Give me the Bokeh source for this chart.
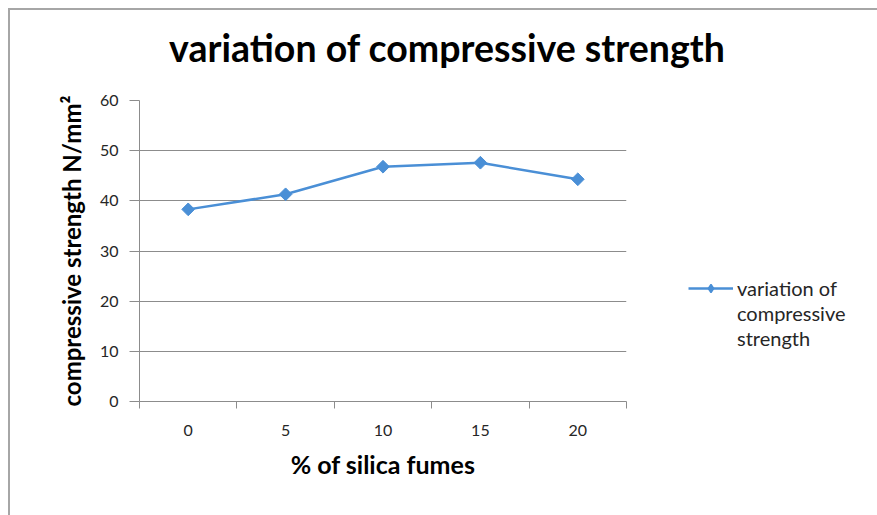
from bokeh.plotting import figure
from bokeh.models import FixedTicker, Legend, LegendItem, LinearAxis, Range1d
from bokeh.embed import file_html
from bokeh.resources import INLINE
import numpy as np

# ---- data ----
silica_pct = [0, 5, 10, 15, 20]
strength = [38.3, 41.3, 46.8, 47.6, 44.3]
y_ticks = [0, 10, 20, 30, 40, 50, 60]
category_edges = [-2.5, 2.5, 7.5, 12.5, 17.5, 22.5]
title_text = "variation of compressive strength"
x_label = "% of silica fumes"
y_label = "compressive strength N/mm\u00b2"
legend_lines = ["variation of", "compressive", "strength"]

FONT = "Lato"
LINE_COLOR = "#4A8FD6"
GRID = "#8c8c8c"
TXT = "#262626"
TITLE_X = 13.3  # horizontal centre of the chart title, in x-axis units

p = figure(frame_width=487, frame_height=301, output_backend="svg", toolbar_location=None,
           x_range=Range1d(category_edges[0], category_edges[-1]),
           y_range=Range1d(y_ticks[0], y_ticks[-1]),
           min_border_left=129, min_border_right=0,
           min_border_top=90, min_border_bottom=114,
           background_fill_color="white", border_fill_color="white")
p.styles = {"border-top": "2px solid #a6a6a6", "border-left": "2px solid #a6a6a6",
            "margin-top": "8px", "margin-left": "8px"}
p.outline_line_color = None
p.title = None

xa = p.below[0]
ya = p.left[0]

# chart title drawn as the single label of a bare top axis
title_axis = LinearAxis(ticker=FixedTicker(ticks=[TITLE_X], minor_ticks=[]),
                        major_label_overrides={TITLE_X: title_text})
title_axis.axis_line_color = None
title_axis.major_tick_line_color = None
title_axis.minor_tick_line_color = None
title_axis.major_tick_out = 0
title_axis.major_tick_in = 0
title_axis.major_label_standoff = 31
title_axis.major_label_text_font = FONT
title_axis.major_label_text_font_size = "37.5px"
title_axis.major_label_text_font_style = "bold"
title_axis.major_label_text_color = "black"
p.add_layout(title_axis, "above")

# bottom axis
xa.ticker = FixedTicker(ticks=silica_pct, minor_ticks=category_edges)
xa.major_tick_line_color = None
xa.minor_tick_line_color = GRID
xa.minor_tick_out = 7
xa.minor_tick_in = 0
xa.axis_line_color = GRID
xa.major_label_text_font = FONT
xa.major_label_text_font_size = "16px"
xa.major_label_text_color = TXT
xa.major_label_standoff = 16
xa.axis_label = x_label
xa.axis_label_text_font = FONT
xa.axis_label_text_font_size = "25px"
xa.axis_label_text_font_style = "bold"
xa.axis_label_text_color = "black"
xa.axis_label_standoff = 10

# left axis
ya.ticker = FixedTicker(ticks=y_ticks, minor_ticks=[])
ya.major_tick_line_color = GRID
ya.major_tick_out = 10
ya.major_tick_in = 0
ya.axis_line_color = GRID
ya.major_label_text_font = FONT
ya.major_label_text_font_size = "16px"
ya.major_label_text_color = TXT
ya.major_label_standoff = 11
ya.axis_label = y_label
ya.axis_label_text_font = FONT
ya.axis_label_text_font_size = "24px"
ya.axis_label_text_font_style = "bold"
ya.axis_label_text_color = "black"
ya.axis_label_standoff = 11

p.xgrid.grid_line_color = None
p.ygrid.ticker = FixedTicker(ticks=y_ticks)
p.ygrid.grid_line_color = GRID
p.ygrid.grid_line_width = 1

# series
ln = p.line(silica_pct, strength, line_color=LINE_COLOR, line_width=2.5)
mk = p.scatter(silica_pct, strength, marker="square", angle=np.pi / 4, size=9,
               fill_color=LINE_COLOR, line_color=LINE_COLOR)
# legend-only marker (not drawn in the plot: its y is NaN)
legend_mk = p.scatter([silica_pct[0]], [float("nan")], marker="diamond", size=15,
                      fill_color=LINE_COLOR, line_color=LINE_COLOR, line_width=1.5)
blank1 = p.line([], [], line_alpha=0)
blank2 = p.line([], [], line_alpha=0)

legend = Legend(items=[LegendItem(label=legend_lines[0], renderers=[ln, legend_mk]),
                       LegendItem(label=legend_lines[1], renderers=[blank1]),
                       LegendItem(label=legend_lines[2], renderers=[blank2])],
                location=(62, 51), orientation="vertical",
                glyph_width=45, glyph_height=20, label_height=20,
                label_standoff=4, spacing=1, padding=0, margin=0,
                border_line_color=None, background_fill_alpha=0,
                label_text_font=FONT, label_text_font_size="20px",
                label_text_color=TXT)
p.add_layout(legend, "right")

open("out.html", "w").write(file_html(p, INLINE))
